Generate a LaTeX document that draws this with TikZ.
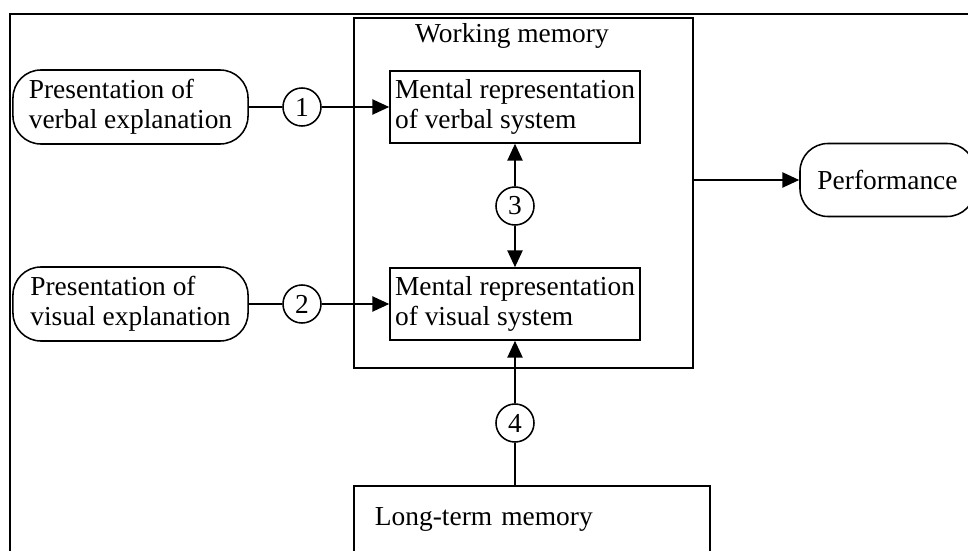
\documentclass[tikz,border=0pt]{standalone}
\usepackage{fontspec}
\setmainfont{Liberation Serif}
\usetikzlibrary{arrows.meta,positioning}

\begin{document}
\begin{tikzpicture}[x=0.025cm, y=-0.025cm,
  every node/.style={font=\fontsize{19.5}{21.5}\selectfont},
  box/.style={draw, line width=1.1pt, align=left, inner sep=0pt},
  pill/.style={draw, line width=1.1pt, rounded corners=0.7cm, align=left, inner sep=0pt},
  num/.style={draw, circle, line width=1.1pt, minimum size=0.95cm, inner sep=0pt},
  link/.style={line width=1.1pt},
  arr/.style={link, -{Triangle[length=0.42cm, width=0.38cm]}}]
 \useasboundingbox (0,0) rectangle (968,551);
 \clip (0,0) rectangle (968,551);
 \draw [line width=1.4pt] (10,600) -- (10,14) -- (1000,14);
 % working memory
 \node [box, minimum width=8.475cm, minimum height=8.75cm] (wm) at (523.5,193) {};
 \node (wmtitle) at (512,36) {Working memory};
 \node [box, minimum width=6.25cm, minimum height=1.8cm] (verbal) at (515,107) {Mental representation\\of verbal system};
 \node [box, minimum width=6.25cm, minimum height=1.8cm] (visual) at (515,304) {Mental representation\\of visual system};
 % inputs and output
 \node [pill, minimum width=5.875cm, minimum height=1.85cm] (presverbal) at (130.5,107) {Presentation of\\verbal explanation};
 \node [pill, minimum width=5.875cm, minimum height=1.85cm] (presvisual) at (130.5,304) {Presentation of\\visual explanation};
 \node [pill, minimum width=4.375cm, minimum height=1.825cm] (perf) at (887.5,180) {Performance};
 \node [box, anchor=north, text width=7.85cm, inner xsep=0.525cm, inner ysep=0.55cm] (ltm) at (532,485) {Long-term memory};
 % numbered paths
 \node [num] (c1) at (302,107) {1};
 \node [num] (c2) at (302,304) {2};
 \node [num] (c3) at (515,206) {3};
 \node [num] (c4) at (515,423) {4};
 \draw [link] (presverbal) -- (c1);
 \draw [arr] (c1) -- (verbal);
 \draw [link] (presvisual) -- (c2);
 \draw [arr] (c2) -- (visual);
 \draw [arr] (c3) -- (verbal);
 \draw [arr] (c3) -- (visual);
 \draw [link] (ltm.north -| c4) -- (c4);
 \draw [arr] (c4) -- (visual);
 \draw [arr] (wm.east |- perf) -- (perf);
\end{tikzpicture}
\end{document}
